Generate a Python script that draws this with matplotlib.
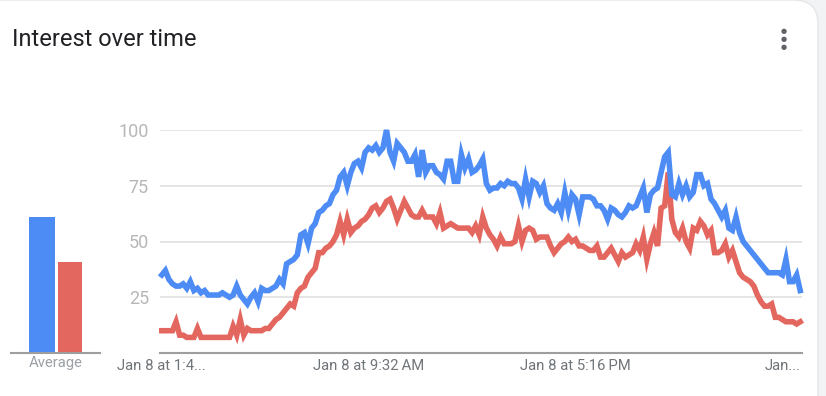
import numpy as np
import matplotlib.pyplot as plt
from matplotlib.patches import FancyBboxPatch

# Google Trends style "Interest over time" (8-minute steps, 180 points)
blue = [35, 37, 33, 31, 30, 30, 31, 29, 32, 28,
        29, 27, 28, 26, 26, 26, 26, 27, 26, 25,
        26, 30, 26, 24, 22, 25, 27, 23, 29, 28,
        28, 29, 30, 33, 31, 40, 41, 42, 44, 53,
        54, 49, 56, 58, 63, 64, 66, 67, 71, 73,
        79, 81, 75, 81, 85, 86, 83, 90, 92, 91,
        93, 90, 92, 100, 90, 86, 94, 92, 90, 86,
        86, 89, 79, 91, 81, 84, 84, 81, 80, 78,
        86, 86, 77, 77, 89, 83, 87, 81, 82, 84,
        87, 76, 73, 74, 74, 76, 75, 77, 76, 76,
        74, 69, 78, 70, 77, 76, 72, 75, 67, 65,
        64, 67, 63, 72, 64, 71, 69, 62, 70, 70,
        70, 69, 66, 66, 64, 60, 65, 64, 62, 61,
        63, 66, 65, 66, 70, 74, 63, 71, 73, 74,
        81, 88, 90, 71, 70, 76, 71, 75, 70, 72,
        80, 80, 75, 76, 69, 67, 64, 61, 64, 56,
        55, 61, 54, 50, 48, 46, 44, 42, 40, 38,
        36, 36, 36, 36, 35, 42, 32, 32, 35, 28]

red = [10, 10, 10, 10, 14, 8, 8, 7, 7, 7,
       11, 7, 7, 7, 7, 7, 7, 7, 7, 7,
       12, 8, 15, 8, 11, 10, 10, 10, 10, 11,
       11, 13, 15, 16, 18, 20, 22, 21, 27, 29,
       30, 34, 36, 38, 45, 45, 47, 48, 50, 53,
       59, 53, 60, 54, 56, 57, 59, 60, 62, 65,
       66, 63, 65, 68, 69, 65, 60, 64, 68, 65,
       62, 61, 61, 64, 61, 61, 61, 58, 63, 56,
       57, 58, 57, 56, 56, 56, 56, 54, 57, 53,
       61, 56, 53, 51, 48, 52, 49, 49, 49, 50,
       57, 50, 55, 56, 55, 51, 52, 52, 52, 48,
       45, 47, 49, 50, 52, 50, 51, 48, 48, 47,
       46, 46, 48, 43, 43, 45, 47, 44, 41, 45,
       43, 44, 45, 49, 46, 52, 42, 49, 54, 48,
       65, 66, 81, 60, 54, 52, 56, 50, 47, 56,
       55, 59, 57, 53, 55, 45, 45, 46, 49, 43,
       46, 41, 36, 34, 33, 32, 30, 26, 23, 21,
       21, 22, 16, 16, 15, 14, 14, 14, 13, 14]

averages = [61, 41]
tick_pos = [0, 58, 116, 174]
tick_labels = ["Jan 8 at 1:4...", "Jan 8 at 9:32\u202fAM", "Jan 8 at 5:16\u202fPM", "Jan..."]

BLUE = "#4d8bf5"
RED = "#e3675e"

plt.rcParams['font.family'] = ['Roboto', 'DejaVu Sans']

W, H = 826, 396
fig = plt.figure(figsize=(W / 100, H / 100), dpi=100)
fig.patch.set_facecolor("#f1f3f4")

# white card behind everything
card = FancyBboxPatch((-30, -60), 848, 456, boxstyle="round,pad=0,rounding_size=24",
                      transform=None, facecolor="white", edgecolor="#e6e6e6", lw=1,
                      zorder=-5)
fig.patches.append(card)

fig.text(12 / W, 1 - 40 / H, "Interest over time", fontsize=17, color="#202124",
         va="center", ha="left")
for dy in [31, 39, 47]:
    fig.text(784 / W, 1 - dy / H, "\u25CF", fontsize=5, color="#5f6368",
             ha="center", va="center")

bottom = (H - 353) / H
top = (H - 130) / H
ax = fig.add_axes([160 / W, bottom, (802 - 160) / W, top - bottom])
ax.set_facecolor("none")
x = np.arange(len(blue))
ax.plot(x, red, color=RED, lw=4, solid_joinstyle="miter", clip_on=False, zorder=3)
ax.plot(x, blue, color=BLUE, lw=4, solid_joinstyle="miter", clip_on=False, zorder=4)
ax.set_ylim(0, 100)
ax.set_xlim(-0.5, len(blue) - 0.5)
ax.set_yticks([25, 50, 75, 100])
ax.set_yticklabels(["25", "50", "75", "100"], fontsize=13, color="#b7b7b7")
ax.set_xticks(tick_pos)
ax.set_xticklabels(tick_labels, fontsize=10.7, color="#70757a")
ax.tick_params(axis="y", length=0, pad=8)
ax.tick_params(axis="x", length=0, pad=4)
ax.grid(axis="y", color="#e0e0e0", lw=1.2)
ax.set_axisbelow(True)
for s in ["top", "right", "left"]:
    ax.spines[s].set_visible(False)
ax.spines["bottom"].set_color("#9e9e9e")
ax.spines["bottom"].set_linewidth(1.5)

# averages
ax2 = fig.add_axes([11 / W, bottom, (100 - 11) / W, top - bottom])
ax2.set_facecolor("none")
ax2.bar([0, 1], averages, width=[0.93, 0.86], color=[BLUE, RED])
ax2.set_xlim(-1.107, 2.07)
ax2.set_ylim(0, 100)
ax2.set_yticks([])
ax2.set_xticks([0.5])
ax2.set_xticklabels(["Average"], fontsize=10.7, color="#9aa0a6")
ax2.tick_params(axis="x", length=0, pad=2)
for s in ["top", "right", "left"]:
    ax2.spines[s].set_visible(False)
ax2.spines["bottom"].set_color("#9e9e9e")
ax2.spines["bottom"].set_linewidth(1.5)

fig.savefig("out.png", dpi=100, facecolor=fig.get_facecolor())
